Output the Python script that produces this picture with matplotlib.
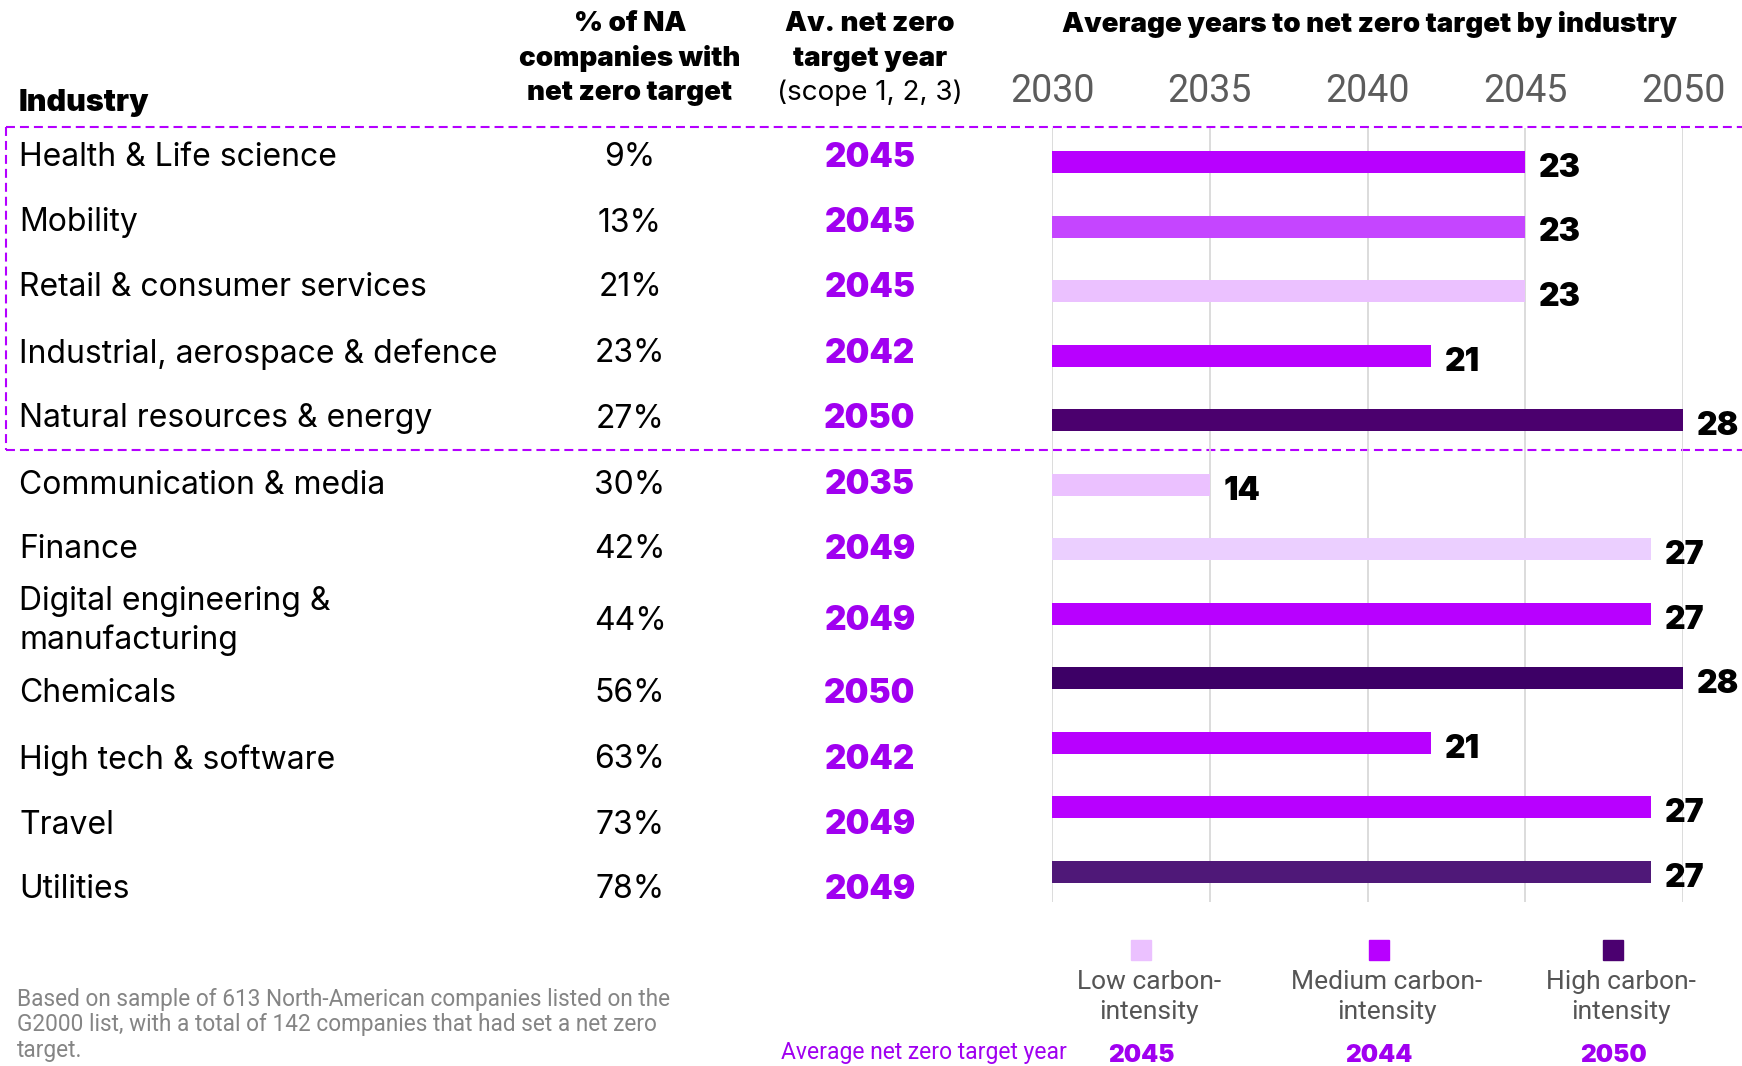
import matplotlib.pyplot as plt
import numpy as np

W, H = 1742, 1066

industries = ["Health & Life science", "Mobility", "Retail & consumer services",
              "Industrial, aerospace & defence", "Natural resources & energy",
              "Communication & media", "Finance", "Digital engineering &\nmanufacturing",
              "Chemicals", "High tech & software", "Travel", "Utilities"]
pct_with_target = [9, 13, 21, 23, 27, 30, 42, 44, 56, 63, 73, 78]
target_year = [2045, 2045, 2045, 2042, 2050, 2035, 2049, 2049, 2050, 2042, 2049, 2049]
years_to_target = [23, 23, 23, 21, 28, 14, 27, 27, 28, 21, 27, 27]
bar_colors = ["#b800ff", "#c545ff", "#ebc1ff", "#b800ff", "#4b006e", "#ebc1ff",
              "#ebcfff", "#b800ff", "#3d0066", "#b800ff", "#b800ff", "#4f1878"]
year_ticks = [2030, 2035, 2040, 2045, 2050]

legend_labels = ["Low carbon-\nintensity", "Medium carbon-\nintensity", "High carbon-\nintensity"]
legend_colors = ["#ebc1ff", "#b800ff", "#4b0070"]
legend_years = [2045, 2044, 2050]

PURPLE = "#a000f0"
BODY = "Inter"
HEAVY = "Inter"
THIN = "Roboto"

# vertical text positions of the table rows (pixels from top)
row_y = [158, 223, 288, 354, 419, 485, 550, 621, 694, 760, 825, 890]

fig = plt.figure(figsize=(W / 100, H / 100), dpi=100)

# bar panel
ax = fig.add_axes([1052 / W, 1 - 902 / H, (1683 - 1052) / W, (902 - 128) / H])
ax.patch.set_alpha(0)
y = np.arange(len(industries))
ax.barh(y, np.array(target_year) - 2030, left=2030, height=0.34,
        color=bar_colors, zorder=3)
for i, (ty, n) in enumerate(zip(target_year, years_to_target)):
    ax.annotate(str(n), (ty, i), xytext=(10, -4.5), textcoords="offset points",
                ha="left", va="center", fontsize=23, fontweight="black",
                family=HEAVY, color="black", annotation_clip=False)
ax.set_xlim(2030, 2050)
ax.set_ylim(len(industries) - 0.535, -0.53)
ax.set_xticks(year_ticks)
ax.set_xticklabels([str(t) for t in year_ticks], fontsize=27, color="#5c5c5c",
                   family=THIN, fontweight="normal")
ax.xaxis.tick_top()
ax.tick_params(axis="x", length=0, pad=13)
ax.set_yticks([])
ax.grid(axis="x", color="#d9d9d9", lw=1.3, zorder=0)
for s in ax.spines.values():
    s.set_visible(False)

# overlay in pixel coordinates for the table and notes
ov = fig.add_axes([0, 0, 1, 1], zorder=-1)
ov.set_xlim(0, W)
ov.set_ylim(H, 0)
ov.axis("off")

hdr = dict(fontsize=20, fontweight="black", family=HEAVY, color="black",
           ha="center", va="center")
ov.text(630, 24, "% of NA", **hdr)
ov.text(630, 59, "companies with", **hdr)
ov.text(630, 93, "net zero target", **hdr)
ov.text(870, 24, "Av. net zero", **hdr)
ov.text(870, 59, "target year", **hdr)
ov.text(870, 93, "(scope 1, 2, 3)", fontsize=20, family=BODY, color="black",
        ha="center", va="center")
ov.text(19, 103, "Industry", fontsize=22, fontweight="black", family=HEAVY,
        ha="left", va="center")
ov.text(1369, 24, "Average years to net zero target by industry", **hdr)

for ry, name, p, ty in zip(row_y, industries, pct_with_target, target_year):
    ov.text(19, ry, name, fontsize=23, family=BODY, color="black",
            ha="left", va="center", linespacing=1.3)
    ov.text(630, ry, f"{p}%", fontsize=23, family=BODY, color="black",
            ha="center", va="center")
    ov.text(870, ry, str(ty), fontsize=24, fontweight="black", family=HEAVY,
            color=PURPLE, ha="center", va="center")

# dashed outline around the first five industries
dash = dict(color="#b400ff", lw=1.5, linestyle=(0, (4.3, 2.4)), clip_on=False)
ov.plot([5.5, W], [127, 127], **dash)
ov.plot([5.5, W], [450, 450], **dash)
ov.plot([5.5, 5.5], [127, 450], **dash)

# legend
leg_x = [1141, 1379, 1613]
for lx, lab, c, yr in zip(leg_x, legend_labels, legend_colors, legend_years):
    ov.add_patch(plt.Rectangle((lx - 10, 940), 20, 20, color=c))
    ov.text(lx + 8, 997, lab, fontsize=19, family=THIN, fontweight="normal",
            color="#555555", ha="center", va="center", linespacing=1.3)
    ov.text(lx, 1055, str(yr), fontsize=17.5, fontweight="black", family=HEAVY,
            color=PURPLE, ha="center", va="center")
ov.text(1067, 1053, "Average net zero target year", fontsize=16.5, family=THIN,
        fontweight="normal", color=PURPLE, ha="right", va="center")

ov.text(17, 1025, "Based on sample of 613 North-American companies listed on the\n"
        "G2000 list, with a total of 142 companies that had set a net zero\ntarget.",
        fontsize=16.3, family=THIN, fontweight="normal", color="#858585",
        ha="left", va="center", linespacing=1.12)

fig.savefig("out.png", dpi=100, facecolor="white")
